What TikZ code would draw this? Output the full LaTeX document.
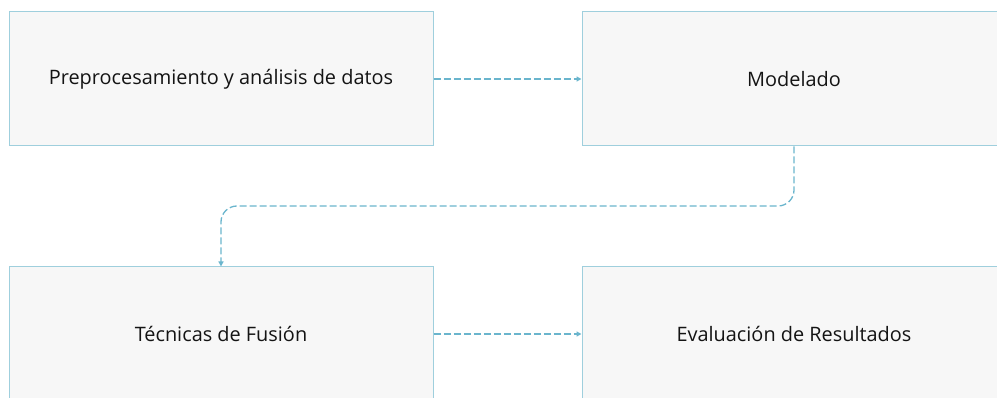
\documentclass[tikz,border=0pt]{standalone}
\usepackage{fontspec}
\setmainfont{Open Sans}
\usetikzlibrary{arrows.meta}
\definecolor{boxborder}{HTML}{9FCFDD}
\definecolor{boxfill}{HTML}{F7F7F7}
\definecolor{arrowcol}{HTML}{6AB5CD}
\begin{document}
\begin{tikzpicture}[x=1pt,y=-1pt,
  box/.style={draw=boxborder,fill=boxfill,line width=1pt,minimum width=424pt,minimum height=134pt,inner sep=0pt,font=\fontsize{19.9}{24}\selectfont,text=black!92},
  conn/.style={draw=arrowcol,line width=1.3pt,dash pattern=on 7pt off 3pt,-{Triangle[length=5pt,width=5pt]}}]
\useasboundingbox (0,0) rectangle (997,398);
\clip (0,0) rectangle (997,398);
\node[box] (a) at (221,79) {Preprocesamiento y análisis de datos};
\node[box] (b) at (794,79) {Modelado};
\node[box] (c) at (221,334) {Técnicas de Fusión};
\node[box] (d) at (794,334) {Evaluación de Resultados};
\coordinate (m) at (0,206);
\draw[conn] (a.east) -- (b.west);
\draw[conn] (c.east) -- (d.west);
\draw[conn,rounded corners=16pt] (b.south) -- (b.south |- m) -- (c.north |- m) -- (c.north);
\end{tikzpicture}
\end{document}
